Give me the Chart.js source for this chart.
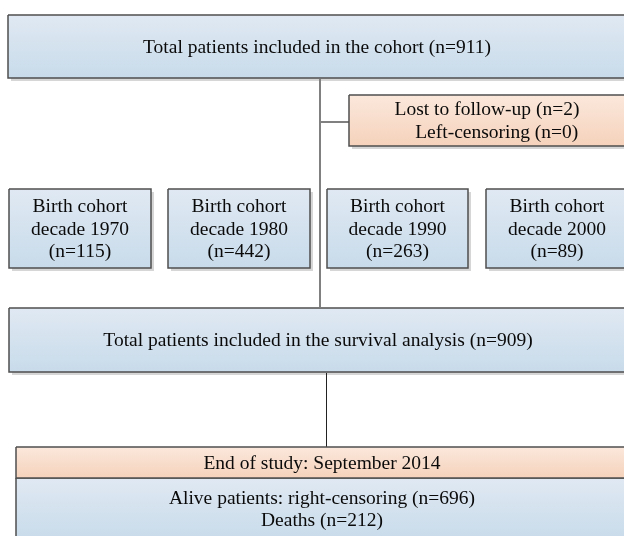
<!DOCTYPE html>
<html>
<head>
<meta charset="utf-8">
<script src="https://cdn.jsdelivr.net/npm/chart.js@4"></script>
<style>
  html, body { margin: 0; padding: 0; background: #fff; }
  #wrap { width: 624px; height: 536px; position: relative; }
</style>
</head>
<body>
<div id="wrap"><canvas id="flowChart"></canvas></div>
<script>
// boxes of the flow diagram (page units, y grows downwards)
const boxLabels = [
  ['Total patients included in the cohort (n=911)'],
  ['Lost to follow-up (n=2)', '    Left-censoring (n=0)'],
  ['Birth cohort', 'decade 1970', '(n=115)'],
  ['Birth cohort', 'decade 1980', '(n=442)'],
  ['Birth cohort', 'decade 1990', '(n=263)'],
  ['Birth cohort', 'decade 2000', '(n=89)'],
  ['Total patients included in the survival analysis (n=909)'],
  ['End of study: September 2014'],
  ['Alive patients: right-censoring (n=696)', 'Deaths (n=212)']
];
const boxLeft   = [8, 349, 9, 168, 327, 486, 9, 16, 16];
const boxRight  = [626, 625, 151, 310, 468, 628, 627, 628, 628];
const boxTop    = [15, 95, 189, 189, 189, 189, 308, 447, 478];
const boxBottom = [78, 146, 268, 268, 268, 268, 372, 478, 540];
const boxKind   = ['blue', 'peach', 'blue', 'blue', 'blue', 'blue', 'blue', 'peach', 'blue'];

// connector lines
const linkX1 = [320, 320, 326.5];
const linkY1 = [79, 122, 373];
const linkX2 = [320, 349, 326.5];
const linkY2 = [307, 122, 447];
const linkColor = ['#808080', '#808080', '#222222'];
const linkWidth = [2, 2, 1];

const gradColors = {
  blue: ['#e0e9f3', '#c8dbea'],
  peach: ['#fbe8dc', '#f5d2bb']
};

const rectPoints = (l, r, t, b) => [
  {x: l, y: t}, {x: r, y: t}, {x: r, y: b}, {x: l, y: b}, {x: l, y: t}
];

const datasets = [];

// shadows
boxLabels.forEach((lab, i) => {
  datasets.push({
    data: rectPoints(boxLeft[i] + 3, boxRight[i] + 3, boxTop[i] + 3, boxBottom[i] + 3),
    showLine: true,
    borderWidth: 0,
    borderColor: 'rgba(0,0,0,0)',
    backgroundColor: '#d6d6d6',
    fill: 'shape',
    pointRadius: 0,
    order: 5
  });
});

// boxes
boxLabels.forEach((lab, i) => {
  datasets.push({
    data: rectPoints(boxLeft[i], boxRight[i], boxTop[i], boxBottom[i]),
    showLine: true,
    borderWidth: 1.5,
    borderColor: '#4f4f4f',
    backgroundColor: (ctx) => {
      const chart = ctx.chart;
      const cols = gradColors[boxKind[i]];
      if (!chart.chartArea) return cols[1];
      const y0 = chart.scales.y.getPixelForValue(boxTop[i]);
      const y1 = chart.scales.y.getPixelForValue(boxBottom[i]);
      const g = chart.ctx.createLinearGradient(0, y0, 0, y1);
      g.addColorStop(0, cols[0]);
      g.addColorStop(1, cols[1]);
      return g;
    },
    fill: 'shape',
    pointRadius: 0,
    order: 2
  });
});

// connectors
linkX1.forEach((x, i) => {
  datasets.push({
    data: [{x: linkX1[i], y: linkY1[i]}, {x: linkX2[i], y: linkY2[i]}],
    showLine: true,
    borderWidth: linkWidth[i],
    borderColor: linkColor[i],
    fill: false,
    pointRadius: 0,
    order: 4
  });
});

const boxText = {
  id: 'boxText',
  afterDatasetsDraw(chart) {
    const ctx = chart.ctx;
    const xs = chart.scales.x, ys = chart.scales.y;
    ctx.save();
    ctx.font = '19.5px "Liberation Serif", "Times New Roman", serif';
    ctx.fillStyle = '#0a0a0a';
    ctx.textAlign = 'center';
    ctx.textBaseline = 'middle';
    boxLabels.forEach((lines, i) => {
      const cx = xs.getPixelForValue((boxLeft[i] + boxRight[i]) / 2);
      const cy = ys.getPixelForValue((boxTop[i] + boxBottom[i]) / 2);
      const lh = 22.5;
      lines.forEach((t, k) => {
        ctx.fillText(t, cx, cy + (k - (lines.length - 1) / 2) * lh + 1);
      });
    });
    ctx.restore();
  }
};

new Chart(document.getElementById('flowChart'), {
  type: 'scatter',
  data: { datasets: datasets },
  options: {
    responsive: true,
    maintainAspectRatio: false,
    animation: false,
    events: [],
    layout: { padding: 0 },
    elements: { line: { tension: 0 } },
    scales: {
      x: { type: 'linear', min: 0, max: 624, display: false },
      y: { type: 'linear', min: 0, max: 536, reverse: true, display: false }
    },
    plugins: {
      legend: { display: false },
      tooltip: { enabled: false }
    }
  },
  plugins: [boxText]
});
</script>
</body>
</html>
